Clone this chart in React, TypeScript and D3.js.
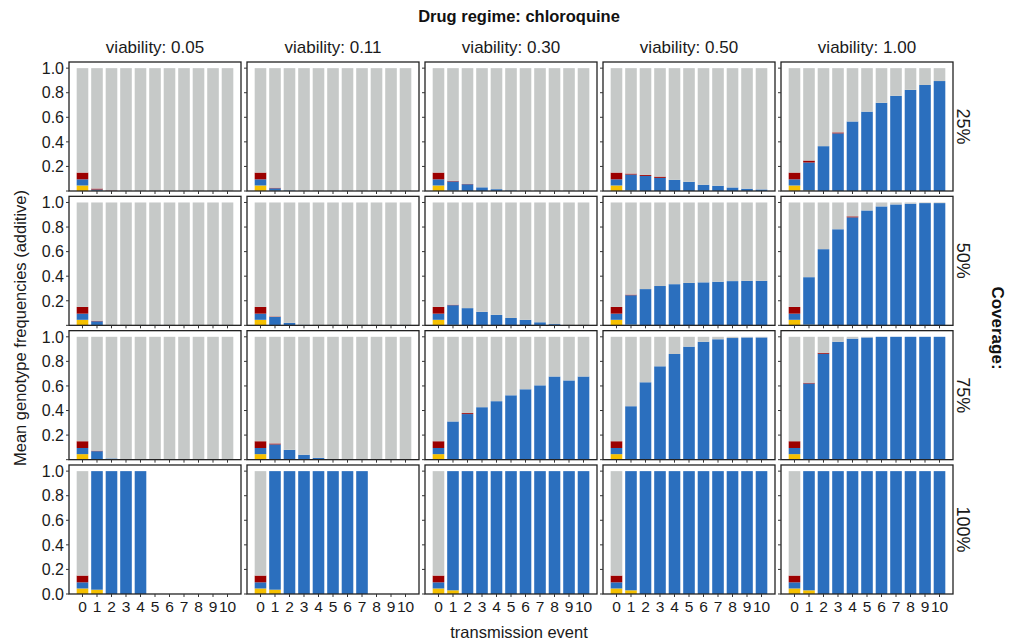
import React from "react";
import * as d3 from "d3";

// Facet labels
const events = ["0", "1", "2", "3", "4", "5", "6", "7", "8", "9", "10"];
const viabilities = ["0.05", "0.11", "0.30", "0.50", "1.00"];
const coverages = ["25%", "50%", "75%", "100%"];
const yTicks = [0, 0.2, 0.4, 0.6, 0.8, 1.0];

// Genotype frequencies per coverage row; each row holds one array per viability column.
// null marks transmission events with no surviving population.
const yellow25 = [
  [0.045, 0.002, 0, 0, 0, 0, 0, 0, 0, 0, 0],
  [0.045, 0.002, 0, 0, 0, 0, 0, 0, 0, 0, 0],
  [0.045, 0.003, 0, 0, 0, 0, 0, 0, 0, 0, 0],
  [0.045, 0.003, 0, 0, 0, 0, 0, 0, 0, 0, 0],
  [0.045, 0.004, 0, 0, 0, 0, 0, 0, 0, 0, 0],
];
const blue25 = [
  [0.05, 0.01, 0.002, 0, 0, 0, 0, 0, 0, 0, 0],
  [0.05, 0.02, 0.005, 0, 0, 0, 0, 0, 0, 0, 0],
  [0.05, 0.075, 0.055, 0.03, 0.015, 0.005, 0, 0, 0, 0, 0],
  [0.05, 0.131, 0.123, 0.107, 0.091, 0.075, 0.051, 0.043, 0.029, 0.019, 0.013],
  [0.05, 0.228, 0.365, 0.469, 0.566, 0.646, 0.718, 0.775, 0.823, 0.863, 0.895],
];
const red25 = [
  [0.055, 0.008, 0.003, 0, 0, 0, 0, 0, 0, 0, 0],
  [0.055, 0.005, 0, 0, 0, 0, 0, 0, 0, 0, 0],
  [0.055, 0.005, 0.002, 0, 0, 0, 0, 0, 0, 0, 0],
  [0.055, 0.008, 0.008, 0.01, 0, 0, 0, 0, 0, 0, 0],
  [0.055, 0.016, 0, 0.008, 0, 0, 0, 0, 0, 0, 0],
];

const yellow50 = [
  [0.045, 0.003, 0, 0, 0, 0, 0, 0, 0, 0, 0],
  [0.045, 0.003, 0, 0, 0, 0, 0, 0, 0, 0, 0],
  [0.045, 0.004, 0, 0, 0, 0, 0, 0, 0, 0, 0],
  [0.045, 0.005, 0, 0, 0, 0, 0, 0, 0, 0, 0],
  [0.045, 0.005, 0, 0, 0, 0, 0, 0, 0, 0, 0],
];
const blue50 = [
  [0.05, 0.03, 0.003, 0, 0, 0, 0, 0, 0, 0, 0],
  [0.05, 0.065, 0.02, 0.005, 0, 0, 0, 0, 0, 0, 0],
  [0.05, 0.16, 0.14, 0.11, 0.085, 0.06, 0.045, 0.025, 0.01, 0, 0],
  [0.05, 0.24, 0.295, 0.32, 0.335, 0.345, 0.35, 0.355, 0.36, 0.362, 0.362],
  [0.05, 0.387, 0.62, 0.782, 0.879, 0.935, 0.968, 0.984, 0.99, 0.995, 0.995],
];
const red50 = [
  [0.055, 0.004, 0, 0, 0, 0, 0, 0, 0, 0, 0],
  [0.055, 0.004, 0, 0, 0, 0, 0, 0, 0, 0, 0],
  [0.055, 0.004, 0, 0, 0, 0, 0, 0, 0, 0, 0],
  [0.055, 0.005, 0, 0, 0, 0, 0, 0, 0, 0, 0],
  [0.055, 0, 0, 0, 0.008, 0, 0, 0, 0, 0, 0],
];

const yellow75 = [
  [0.045, 0.004, 0, 0, 0, 0, 0, 0, 0, 0, 0],
  [0.045, 0.004, 0, 0, 0, 0, 0, 0, 0, 0, 0],
  [0.045, 0.005, 0, 0, 0, 0, 0, 0, 0, 0, 0],
  [0.045, 0.005, 0, 0, 0, 0, 0, 0, 0, 0, 0],
  [0.045, 0.005, 0, 0, 0, 0, 0, 0, 0, 0, 0],
];
const blue75 = [
  [0.05, 0.065, 0.01, 0.003, 0, 0, 0, 0, 0, 0, 0],
  [0.05, 0.12, 0.08, 0.04, 0.015, 0.005, 0, 0, 0, 0, 0],
  [0.05, 0.306, 0.371, 0.427, 0.476, 0.524, 0.573, 0.605, 0.677, 0.645, 0.677],
  [0.05, 0.43, 0.63, 0.76, 0.86, 0.92, 0.96, 0.98, 0.99, 0.995, 0.995],
  [0.05, 0.615, 0.862, 0.96, 0.985, 0.995, 1, 1, 1, 1, 1],
];
const red75 = [
  [0.055, 0.004, 0, 0, 0, 0, 0, 0, 0, 0, 0],
  [0.055, 0.008, 0, 0, 0, 0, 0, 0, 0, 0, 0],
  [0.055, 0, 0.008, 0, 0, 0, 0, 0, 0, 0, 0],
  [0.055, 0, 0, 0, 0, 0, 0, 0, 0, 0, 0],
  [0.055, 0.006, 0.008, 0, 0, 0, 0, 0, 0, 0, 0],
];

const yellow100 = [
  [0.045, 0.035, 0, 0, 0, null, null, null, null, null, null],
  [0.045, 0.035, 0, 0, 0, 0, 0, 0, null, null, null],
  [0.045, 0.03, 0, 0, 0, 0, 0, 0, 0, 0, 0],
  [0.045, 0.03, 0, 0, 0, 0, 0, 0, 0, 0, 0],
  [0.045, 0.03, 0, 0, 0, 0, 0, 0, 0, 0, 0],
];
const blue100 = [
  [0.05, 0.965, 1, 1, 1, null, null, null, null, null, null],
  [0.05, 0.965, 1, 1, 1, 1, 1, 1, null, null, null],
  [0.05, 0.97, 1, 1, 1, 1, 1, 1, 1, 1, 1],
  [0.05, 0.97, 1, 1, 1, 1, 1, 1, 1, 1, 1],
  [0.05, 0.97, 1, 1, 1, 1, 1, 1, 1, 1, 1],
];
const red100 = [
  [0.055, 0, 0, 0, 0, null, null, null, null, null, null],
  [0.055, 0, 0, 0, 0, 0, 0, 0, null, null, null],
  [0.055, 0, 0, 0, 0, 0, 0, 0, 0, 0, 0],
  [0.055, 0, 0, 0, 0, 0, 0, 0, 0, 0, 0],
  [0.055, 0, 0, 0, 0, 0, 0, 0, 0, 0, 0],
];

const yellowRows = [yellow25, yellow50, yellow75, yellow100];
const blueRows = [blue25, blue50, blue75, blue100];
const redRows = [red25, red50, red75, red100];

const COLORS = { yellow: "#F5C000", blue: "#2B6FBE", red: "#9C0000", gray: "#C6C9C8" };
const FONT = "'Liberation Sans', Arial, Helvetica, sans-serif";

const W = 1009;
const H = 643;
const left0 = 69;
const top0 = 62;
const panelW = 172;
const panelH = 129;
const gapX = 6;
const gapY = 5.33;

function Panel({ row, col }: { row: number; col: number }) {
  const x0 = left0 + col * (panelW + gapX);
  const y0 = top0 + row * (panelH + gapY);
  const x = d3.scaleBand<string>().domain(events).range([x0, x0 + panelW]).paddingInner(0.2).paddingOuter(0.53);
  const y = d3.scaleLinear().domain([0, 1.05]).range([y0 + panelH, y0]);
  const ys = yellowRows[row][col];
  const bs = blueRows[row][col];
  const rs = redRows[row][col];
  const bars: React.ReactNode[] = [];
  events.forEach((ev, i) => {
    if (bs[i] === null) return;
    const segs = [
      { v: ys[i] as number, c: COLORS.yellow },
      { v: bs[i] as number, c: COLORS.blue },
      { v: rs[i] as number, c: COLORS.red },
    ];
    let acc = 0;
    segs.forEach((s, k) => {
      const lo = acc;
      const hi = Math.min(1, acc + s.v);
      acc = hi;
      if (hi > lo)
        bars.push(
          <rect key={`${ev}-${k}`} x={x(ev)} width={x.bandwidth()} y={y(hi)} height={y(lo) - y(hi)} fill={s.c} />
        );
    });
    if (acc < 1)
      bars.push(
        <rect key={`${ev}-g`} x={x(ev)} width={x.bandwidth()} y={y(1)} height={y(acc) - y(1)} fill={COLORS.gray} />
      );
  });
  const isBottom = row === coverages.length - 1;
  const isLeft = col === 0;
  return (
    <g>
      {bars}
      <rect x={x0} y={y0} width={panelW} height={panelH} fill="none" stroke="#222" strokeWidth={1.3} />
      {yTicks.map((t) => (
        <g key={`yt${t}`}>
          <line x1={x0 - 3} x2={x0} y1={y(t)} y2={y(t)} stroke="#333" strokeWidth={1} />
          {isLeft && (t > 0 || isBottom) && (
            <text x={x0 - 5} y={y(t)} dy="0.36em" textAnchor="end" fontSize={16} fill="#1a1a1a">
              {t.toFixed(1)}
            </text>
          )}
        </g>
      ))}
      {events.map((ev) => {
        const cx = (x(ev) as number) + x.bandwidth() / 2;
        return (
          <g key={`xt${ev}`}>
            <line x1={cx} x2={cx} y1={y0 + panelH} y2={y0 + panelH + 3} stroke="#333" strokeWidth={1} />
            {isBottom && (
              <text x={cx} y={y0 + panelH + 18} textAnchor="middle" fontSize={15.5} fill="#1a1a1a">
                {ev}
              </text>
            )}
          </g>
        );
      })}
    </g>
  );
}

export default function App() {
  const gridRight = left0 + viabilities.length * panelW + (viabilities.length - 1) * gapX;
  const gridBottom = top0 + coverages.length * panelH + (coverages.length - 1) * gapY;
  const midY = (top0 + gridBottom) / 2;
  return (
    <svg width={W} height={H} style={{ position: "absolute", left: 0, top: 0, background: "#fff" }} fontFamily={FONT}>
      <text x={519} y={22} textAnchor="middle" fontSize={16.5} fontWeight="bold" fill="#111">
        Drug regime: chloroquine
      </text>
      {viabilities.map((v, c) => (
        <text key={v} x={left0 + c * (panelW + gapX) + panelW / 2} y={53} textAnchor="middle" fontSize={17} fill="#1a1a1a">
          {`viability: ${v}`}
        </text>
      ))}
      {coverages.map((cv, r) => {
        const cy = top0 + r * (panelH + gapY) + panelH / 2;
        return (
          <text key={cv} transform={`translate(${gridRight + 4},${cy}) rotate(90)`} textAnchor="middle" fontSize={18} fill="#1a1a1a">
            {cv}
          </text>
        );
      })}
      <text transform={`translate(${gridRight + 39},${midY}) rotate(90)`} textAnchor="middle" fontSize={17} fontWeight="bold" fill="#111">
        Coverage:
      </text>
      <text transform={`translate(26,${midY}) rotate(-90)`} textAnchor="middle" fontSize={16.5} fill="#1a1a1a">
        Mean genotype frequencies (additive)
      </text>
      <text x={519} y={638} textAnchor="middle" fontSize={16.5} fill="#1a1a1a">
        transmission event
      </text>
      {coverages.map((_, r) => viabilities.map((__, c) => <Panel key={`${r}-${c}`} row={r} col={c} />))}
    </svg>
  );
}
